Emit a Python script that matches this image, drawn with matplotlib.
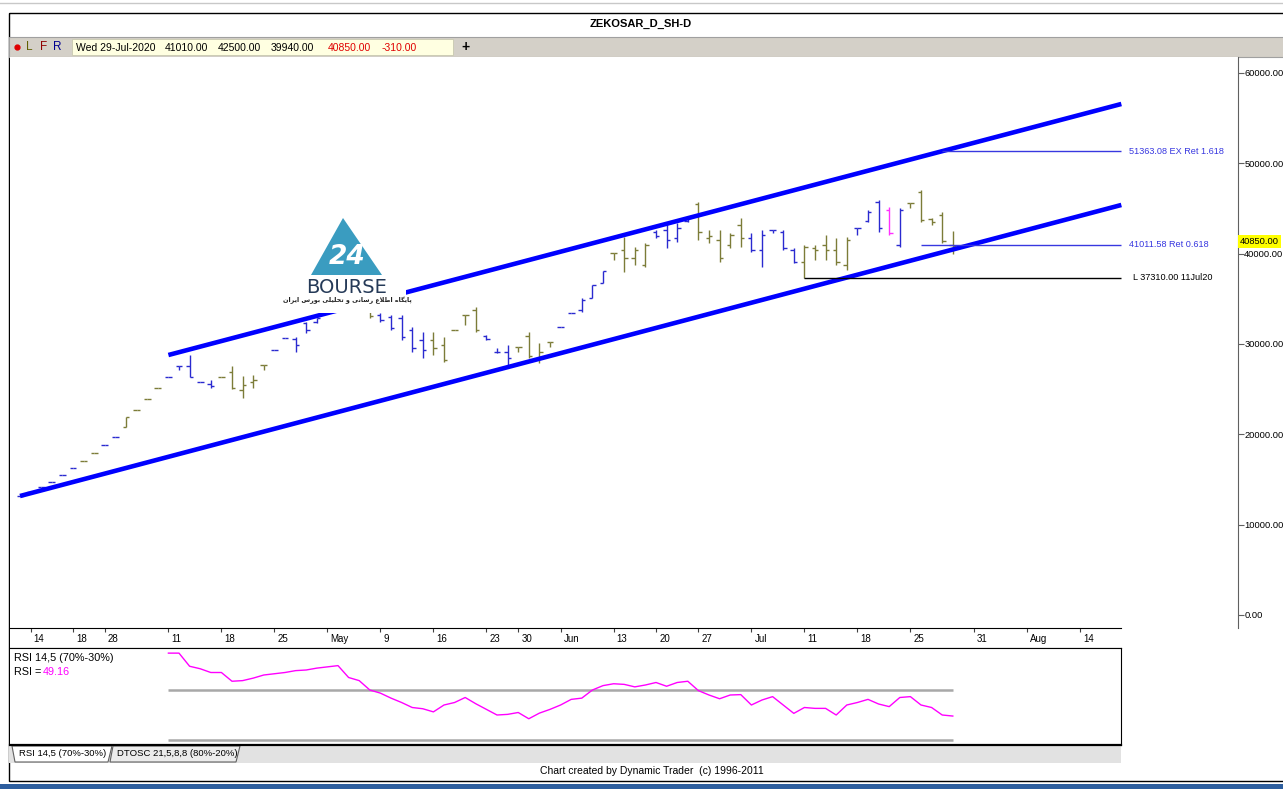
import matplotlib
matplotlib.use("Agg")
import matplotlib.pyplot as plt
import matplotlib.transforms as mtransforms
from matplotlib import font_manager
from matplotlib.patches import Rectangle, Polygon
import numpy as np

W, H = 1283, 789

# ---- data ----
bar_open = [13170, 13650, 14140, 14760, 15500, 16310, 17080, 17970, 18820, 19740,
            20780, 22690, 23880, 25160, 26310, 27560, 27560, 25830, 25570, 26380,
            26900, 24910, 25790, 27670, 29340, 30660, 30550, 32320, 32430, 34320,
            35090, 34430, 34210, 33760, 33210, 32990, 32880, 31550, 30440, 30440,
            29890, 31550, 33210, 33760, 30880, 29110, 29110, 29700, 30880, 28450,
            30220, 31920, 33400, 33760, 35090, 36750, 40070, 40410, 39520, 38750,
            42400, 42620, 41730, 43620, 45500, 41730, 41510, 40960, 43170, 41730,
            40410, 42620, 42400, 40410, 39080, 40630, 40960, 40410, 38750, 42840,
            43620, 45720, 44830, 40960, 45610, 46830, 43840, 44280, 41010]
bar_high = [13170, 13650, 14140, 14760, 15500, 16310, 17080, 17970, 18820, 19740,
            21890, 22690, 23880, 25160, 26310, 27560, 28780, 25830, 26010, 26380,
            27560, 26460, 26570, 27670, 29340, 30660, 30770, 32430, 32880, 35310,
            35200, 34650, 34430, 33980, 33430, 33210, 33210, 31880, 31330, 31330,
            30770, 31550, 33210, 34100, 31000, 29560, 29890, 29700, 31360, 30110,
            30250, 31920, 33400, 35090, 36530, 38080, 40070, 41840, 40740, 41180,
            42620, 43390, 43390, 44060, 45720, 42620, 42620, 42290, 43950, 42290,
            42620, 42620, 42620, 40630, 40960, 40960, 42070, 41730, 41840, 42840,
            44830, 45940, 45170, 45050, 45610, 47050, 43950, 44610, 42500]
bar_low = [13170, 13650, 14140, 14760, 15500, 16310, 17080, 17970, 18820, 19740,
           20780, 22690, 23880, 25160, 26310, 27120, 26380, 25830, 25100, 26380,
           25020, 24020, 25130, 27120, 29340, 30660, 29120, 31210, 32320, 34210,
           34210, 33880, 33540, 32880, 32430, 31550, 30440, 29110, 28450, 28780,
           28010, 31550, 32100, 31330, 30440, 29000, 27450, 29110, 28420, 27900,
           29700, 31920, 33400, 33580, 35090, 36750, 39300, 37970, 38750, 38520,
           41730, 40630, 41290, 43510, 41510, 41180, 39080, 40630, 40740, 40180,
           38520, 42290, 40410, 38970, 37310, 39300, 39300, 38750, 38190, 42070,
           43510, 42400, 42070, 40740, 45050, 43510, 43170, 41180, 39940]
bar_close = [13170, 13650, 14140, 14760, 15500, 16310, 17080, 17970, 18820, 19740,
             21890, 22690, 23880, 25160, 26310, 27560, 26380, 25830, 25350, 26380,
             25130, 25460, 26010, 27670, 29340, 30660, 29890, 31550, 32880, 35090,
             34430, 34100, 33760, 33100, 32660, 31770, 30770, 29560, 29330, 29560,
             28230, 31550, 33210, 31550, 30550, 29110, 28450, 29700, 28670, 29110,
             30220, 31920, 33400, 34870, 36530, 38080, 40070, 39520, 40410, 40960,
             41950, 41510, 42860, 43950, 42400, 41950, 39520, 42070, 41730, 40410,
             42070, 42620, 40630, 39080, 40740, 40410, 40410, 39080, 41510, 42840,
             44610, 42840, 42290, 44830, 45610, 43730, 43510, 41400, 40850]
bar_color = list("".join("bbbbbb oo bb oooo bbbbb ooooo bbbbbbbbb o bbbbb ooooo bbb oooo "
                         "bbbbb oooo bbbb ooooo bbbbb ooooo bbb m b ooooo".split()))

rsi_start = 14
rsi_values = [99.5, 99.5, 89, 87, 84, 84, 77, 77.5, 79.5, 82, 83, 84, 85.5, 86, 87.5,
              88.5, 89.5, 80, 77.5, 70, 67.5, 63.5, 60, 56, 55, 52.5, 58, 60, 64, 59,
              54.5, 50, 50.5, 52, 47, 51.5, 54.5, 58, 62.5, 63.5, 70, 73.5, 75, 74.5,
              72.5, 74, 76, 73, 76, 77, 69.5, 66, 63, 66, 66.3, 58, 62, 64.7, 58,
              51.3, 56, 55.3, 55.3, 50, 58, 60, 62.5, 58.8, 56.7, 64, 64.7, 58, 56,
              50, 49.16]

date_ticks = [1, 5, 8, 14, 19, 24, 29, 34, 39, 44, 47, 51, 56, 60, 64, 69, 74, 79, 84, 90, 95, 100]
date_labels = ['14', '18', '28', '11', '18', '25', 'May', '9', '16', '23', '30', 'Jun',
               '13', '20', '27', 'Jul', '11', '18', '25', '31', 'Aug', '14']

lower_x = [0, 103.9]
lower_y = [13170, 45390]
upper_x = [14, 103.9]
upper_y = [28780, 56570]

levels = [51363.08, 41011.58, 37310.00]
level_start = [87, 85, 74]
level_text = ['51363.08 EX Ret 1.618', '41011.58 Ret 0.618', 'L 37310.00 11Jul20']
level_color = ['#3838e0', '#3838e0', 'black']

price_ticks = [0, 10000, 20000, 30000, 40000, 50000, 60000]
last_price = 40850.00

# ---- fonts ----
names = set(font_manager.get_font_names())
main_font = 'Liberation Sans' if 'Liberation Sans' in names else 'DejaVu Sans'
plt.rcParams['font.family'] = [main_font, 'DejaVu Sans']

fig = plt.figure(figsize=(W / 100, H / 100), dpi=100)


def rect(x0, y0, x1, y1):
    return [x0 / W, 1 - y1 / H, (x1 - x0) / W, (y1 - y0) / H]


def px_to_idx(x):
    return (x - 20) / 10.6


# background / frame
bg = fig.add_axes([0, 0, 1, 1], zorder=0)
bg.set_xlim(0, W)
bg.set_ylim(H, 0)
bg.axis('off')
bg.plot([0, W], [3, 3], color='#c8c8c8', lw=1)
bg.add_patch(Rectangle((8.5, 12.5), W, 768, fill=False, ec='black', lw=1))
bg.text(641, 24, 'ZEKOSAR_D_SH-D', ha='center', va='center', fontsize=8, weight='bold')
bg.add_patch(Rectangle((9, 36.5), W, 20, fc='#d4d0c8', ec='#a0a0a0', lw=0.8))
bg.add_patch(Rectangle((72, 39), 381, 16, fc='#ffffe1', ec='#c8c8b0', lw=0.6))
bg.plot([17], [47], 'o', color='#e00000', ms=3.5)
bg.text(26, 47, 'L', color='#606000', fontsize=8.5, va='center')
bg.text(40, 47, 'F', color='#900000', fontsize=8.5, va='center')
bg.text(53, 47, 'R', color='#000090', fontsize=8.5, va='center')
info = [(76, 'Wed 29-Jul-2020', 'black'), (165, '41010.00', 'black'), (218, '42500.00', 'black'),
        (271, '39940.00', 'black'), (328, '40850.00', '#e00000'), (382, '-310.00', '#e00000')]
for x, s, c in info:
    bg.text(x, 47.5, s, color=c, fontsize=7.5, va='center')
bg.text(466, 47, '+', fontsize=10, weight='bold', ha='center', va='center')

# tab bar and footer
bg.add_patch(Rectangle((9, 745), 1112, 18, fc='#e2e2e2', ec='none', hatch='....', lw=0))
bg.add_patch(Polygon([(12, 746), (112, 746), (108, 762), (15, 762)], fc='white', ec='#606060', lw=0.8))
bg.add_patch(Polygon([(113, 746), (240, 746), (236, 762), (110, 762)], fc='#ececec', ec='#606060', lw=0.8))
bg.text(19, 754, 'RSI 14,5 (70%-30%)', fontsize=6.8, va='center')
bg.text(117, 754, 'DTOSC 21,5,8,8 (80%-20%)', fontsize=6.8, va='center')
bg.text(652, 771, 'Chart created by Dynamic Trader  (c) 1996-2011', ha='center', va='center', fontsize=7.5)
bg.add_patch(Rectangle((0, 784), W, 5, fc='#2d5e9e', ec='none'))

# price panel
pax = fig.add_axes(rect(10, 57, 1238, 628), zorder=1)
pax.set_xlim(px_to_idx(10), px_to_idx(1238))
pax.set_ylim(-1440, 61770)
for s in ['top', 'left', 'bottom']:
    pax.spines[s].set_visible(False)
pax.spines['right'].set_color('#606060')
pax.set_xticks([])
pax.yaxis.tick_right()
pax.set_yticks(price_ticks)
pax.set_yticklabels(['%.2f' % v for v in price_ticks])
pax.tick_params(axis='y', length=4, pad=0.5, labelsize=6.7, color='#606060')

op = np.array(bar_open)
hi = np.array(bar_high)
lo = np.array(bar_low)
cl = np.array(bar_close)
idx = np.arange(len(op))
cols = {'b': '#2a2ad0', 'o': '#7c7c38', 'm': '#ff30ff'}
tk = 0.33
for key, col in cols.items():
    sel = np.array([c == key for c in bar_color])
    xi = idx[sel]
    pax.vlines(xi, lo[sel], hi[sel], color=col, lw=1)
    pax.hlines(op[sel], xi - tk, xi, color=col, lw=1)
    pax.hlines(cl[sel], xi, xi + tk, color=col, lw=1)

pax.plot(lower_x, lower_y, color='#0000ff', lw=3.3, solid_capstyle='butt')
pax.plot(upper_x, upper_y, color='#0000ff', lw=3.3, solid_capstyle='butt')

for lv, st, txt, c in zip(levels, level_start, level_text, level_color):
    pax.hlines(lv, st, lower_x[1], color=c, lw=1)
    xt = px_to_idx(1133) if txt.startswith('L') else px_to_idx(1129)
    pax.text(xt, lv, txt, color=c, fontsize=6.6, va='center')

trans = mtransforms.blended_transform_factory(pax.transAxes, pax.transData)
pax.text(1.0015, last_price + 500, '%.2f' % last_price, transform=trans, fontsize=6.7, va='center',
         bbox=dict(fc='#ffff00', ec='none', pad=1.2), zorder=5)

# date strip
dax = fig.add_axes(rect(10, 628, 1121, 648), zorder=1)
dax.set_xlim(px_to_idx(10), px_to_idx(1121))
dax.set_ylim(20, 0)
dax.set_xticks([])
dax.set_yticks([])
dax.spines['left'].set_visible(False)
dax.spines['right'].set_visible(False)
dax.vlines(date_ticks, 0, 4, color='#404040', lw=0.8)
for t, s in zip(date_ticks, date_labels):
    dax.text(t + 0.3, 11, s, fontsize=7, va='center', ha='left')

# RSI panel
rax = fig.add_axes(rect(10, 648, 1121, 745), zorder=1)
rax.set_xlim(px_to_idx(10), px_to_idx(1121))
rax.set_ylim(26, 103.6)
rax.set_xticks([])
rax.set_yticks([])
rax.spines['left'].set_visible(False)
rax.spines['bottom'].set_linewidth(1.6)
rsi_x = np.arange(rsi_start, rsi_start + len(rsi_values))
rax.hlines([70, 30], rsi_x[0], rsi_x[-1], color='#a8a8a8', lw=1.8)
rax.plot(rsi_x, rsi_values, color='#ff00ff', lw=1)

# overlay: logo and panel captions
ov = fig.add_axes([0, 0, 1, 1], zorder=3)
ov.set_xlim(0, W)
ov.set_ylim(H, 0)
ov.axis('off')
ov.patch.set_alpha(0)
ov.text(14, 658, 'RSI 14,5 (70%-30%)', fontsize=7.8, va='center')
ov.text(14, 672, 'RSI =', fontsize=7.8, va='center')
ov.text(43, 672, '49.16', fontsize=7.8, va='center', color='#ff00ff')

ov.add_patch(Rectangle((288, 197), 118, 116, fc='white', ec='none'))
ov.add_patch(Polygon([(311, 275), (343, 218), (382, 275)], fc='#3a9cc0', ec='none'))
ov.text(347, 257, '24', color='white', fontsize=19, weight='bold', ha='center', va='center',
        family='DejaVu Sans', style='italic')
ov.text(347, 287, 'BOURSE', color='#253a58', fontsize=14, ha='center', va='center', family='DejaVu Sans')
persian = ('\uFB58\uFE8E\uFBFE\uFB95\uFE8E\uFEE9 \uFE8D\uFEC3\uFEFC\uFEC9 \uFEAD\uFEB3\uFE8E\uFEE7\uFBFD '
           '\uFEED \uFE97\uFEA4\uFEE0\uFBFF\uFEE0\uFBFD \uFE91\uFEEE\uFEAD\uFEB1 \uFE8D\uFBFE\uFEAE\uFE8D\uFEE5')
ov.text(347, 300, persian[::-1], color='#202020', fontsize=4.6, weight='bold', ha='center', va='center',
        family='DejaVu Sans')

fig.savefig('out.png', dpi=100)
